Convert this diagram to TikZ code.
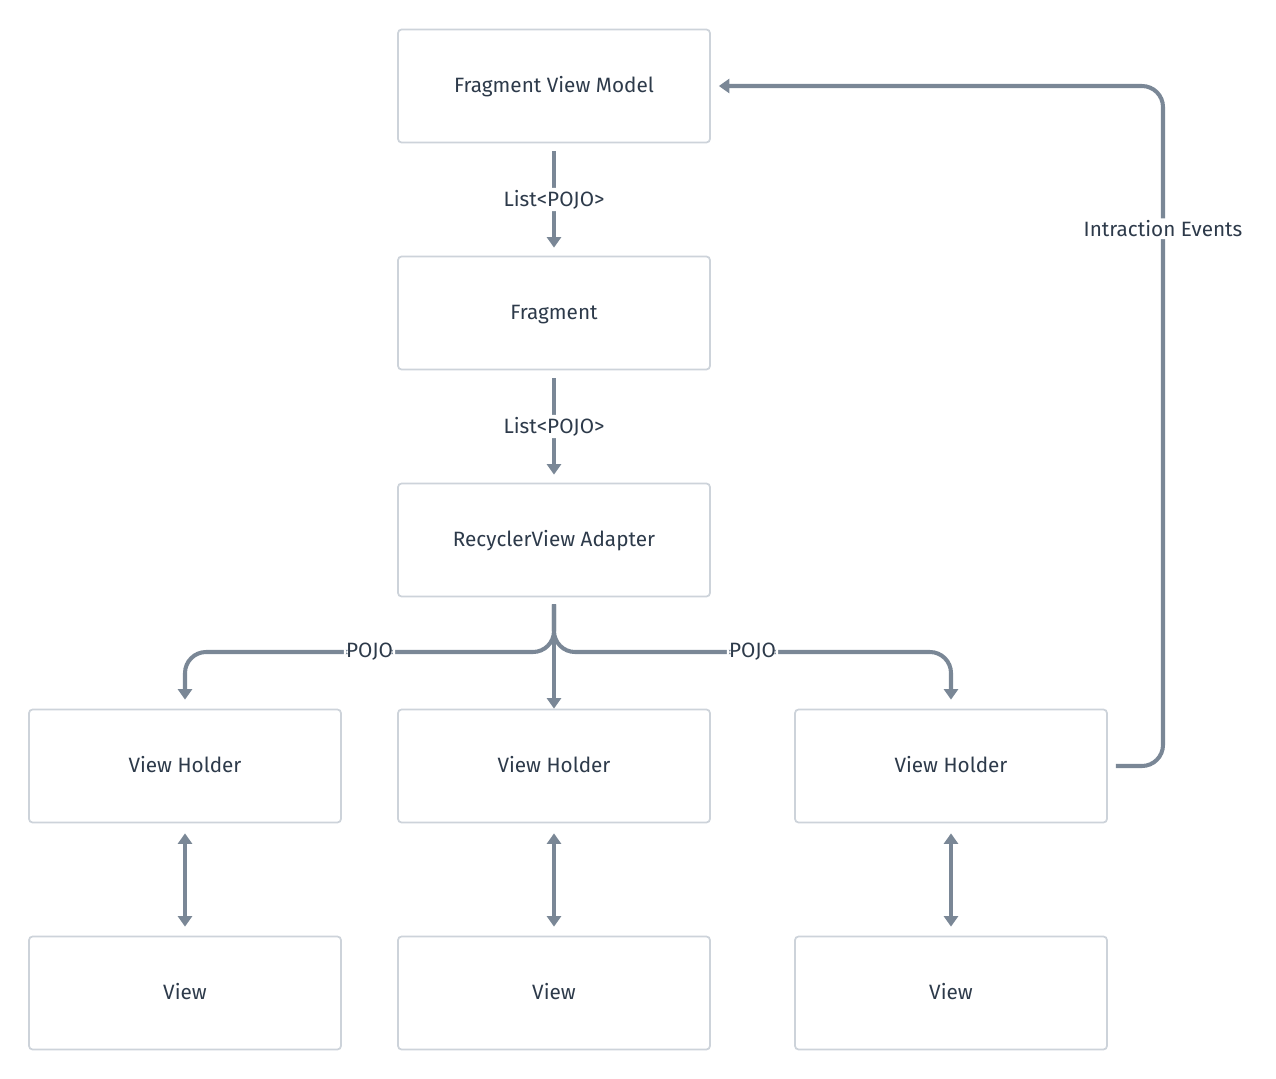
\documentclass[tikz,border=0pt]{standalone}
\usepackage{fontspec}
\setmainfont{Fira Sans}
\usetikzlibrary{arrows.meta}
\definecolor{edgegray}{HTML}{7A8796}
\definecolor{boxline}{HTML}{CDD3DA}
\definecolor{txtgray}{HTML}{2D3A4A}

\begin{document}
\begin{tikzpicture}[x=0.02cm,y=-0.02cm,
	box/.style={draw=boxline, line width=1pt, rounded corners=2pt, minimum width=6.24cm, minimum height=2.26cm, text=txtgray, font=\fontsize{11.8}{14}\selectfont, text height=1.5ex, text depth=0.1ex},
	flow/.style={draw=edgegray, line width=2.3pt, rounded corners=12pt, -{Triangle[length=6pt,width=8pt]}},
	both/.style={flow, {Triangle[length=6pt,width=8pt]}-{Triangle[length=6pt,width=8pt]}},
	tag/.style={fill=white, text=txtgray, inner sep=1.2pt, font=\fontsize{11.8}{14}\selectfont}]
	\useasboundingbox (0,0) rectangle (1276,1079);

	% top column
\node[box] (fvm) at (554,86) {Fragment View Model};
\node[box] (frag) at (554,313) {Fragment};
\node[box] (adp) at (554,540) {RecyclerView Adapter};
\draw[flow, shorten <=0.16cm, shorten >=0.16cm] (fvm) -- node[tag] {List<POJO>} (frag);
\draw[flow, shorten <=0.16cm, shorten >=0.16cm] (frag) -- node[tag] {List<POJO>} (adp);

	% holders and views
\foreach \x/\i in {185/1,554/2,951/3} {
	\node[box] (vh\i) at (\x,766) {View Holder};
	\node[box] (view\i) at (\x,993) {View};
	\draw[both, shorten <=0.2cm, shorten >=0.18cm] (vh\i) -- (view\i);
}

	% adapter to holders
\draw[flow, shorten <=0.14cm] (adp) -- (vh2);
\draw[flow, shorten <=0.14cm, shorten >=0.18cm] (adp) -- (554,652) -- node[tag] {POJO} (185,652) -- (vh1);
\draw[flow, shorten <=0.14cm, shorten >=0.18cm] (adp) -- (554,652) -- node[tag] {POJO} (951,652) -- (vh3);

	% events back to the view model
\draw[flow, shorten <=0.16cm, shorten >=0.16cm] (vh3) -- (1163,766) -- node[tag, pos=0.79] {Intraction Events} (1163,86) -- (fvm);
\end{tikzpicture}
\end{document}
